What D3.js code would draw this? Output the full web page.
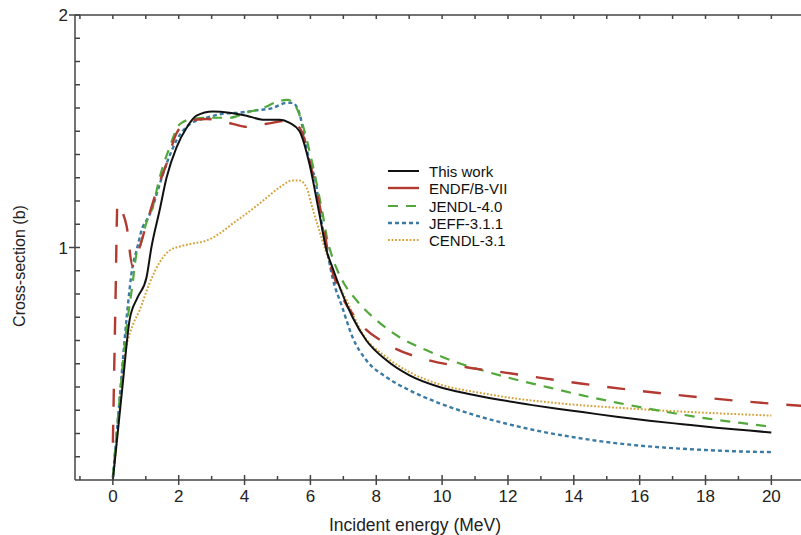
<!DOCTYPE html>
<html><head><meta charset="utf-8">
<script src="https://cdn.jsdelivr.net/npm/d3@7"></script>
<style>body{margin:0;background:#fff}svg{display:block}text{font-family:"Liberation Sans",Arial,sans-serif}</style>
</head><body><svg id="c" width="801" height="535"></svg>
<script>
const seriesNames = ["This work","ENDF/B-VII","JENDL-4.0","JEFF-3.1.1","CENDL-3.1"];
const thisWork = [[0,0],[0.29,0.40],[0.51,0.69],[0.75,0.785],[1.02,0.87],[1.17,1.0],[1.42,1.16],[1.63,1.30],[1.93,1.43],[2.24,1.515],[2.54,1.567],[3.03,1.585],[3.54,1.58],[4.06,1.567],[4.55,1.55],[5.06,1.55],[5.37,1.536],[5.67,1.50],[5.97,1.36],[6.27,1.146],[6.49,0.987],[6.67,0.914],[6.97,0.80],[7.28,0.70],[7.70,0.60],[8.31,0.515],[9.01,0.45],[9.92,0.40],[10.74,0.372],[11.74,0.345],[12.74,0.322],[13.5,0.306],[14.26,0.292],[15.3,0.272],[16.3,0.255],[17.3,0.240],[18.33,0.225],[19.33,0.213],[20.0,0.204]];
const endf = [[0,0.16],[0.08,0.77],[0.14,1.19],[0.23,1.17],[0.42,1.09],[0.6,0.92],[0.81,1.0],[1.05,1.115],[1.33,1.245],[1.63,1.36],[1.93,1.49],[2.33,1.545],[2.85,1.553],[3.64,1.532],[4.06,1.519],[4.67,1.532],[5.27,1.545],[5.67,1.515],[6.06,1.32],[6.37,1.116],[6.58,0.944],[6.88,0.815],[7.43,0.687],[8.4,0.579],[9.53,0.518],[10.74,0.485],[11.96,0.461],[13.05,0.438],[14.26,0.414],[15.48,0.392],[16.66,0.373],[17.82,0.356],[19.03,0.340],[20.24,0.326],[21,0.318]];
const jendl = [[0,0.01],[0.2,0.34],[0.42,0.66],[0.6,0.845],[0.72,0.974],[0.81,1.0],[1.02,1.107],[1.2,1.17],[1.42,1.30],[1.72,1.43],[2.03,1.53],[2.42,1.553],[3.03,1.558],[3.54,1.558],[4.06,1.58],[4.55,1.60],[5.06,1.63],[5.3,1.635],[5.58,1.60],[5.76,1.53],[6.06,1.36],[6.37,1.146],[6.52,1.03],[6.67,0.957],[6.97,0.858],[7.4,0.773],[8.01,0.687],[8.71,0.614],[9.53,0.558],[10.44,0.506],[11.35,0.466],[12.35,0.428],[13.3,0.396],[14.26,0.364],[15.3,0.333],[16.3,0.306],[17.3,0.281],[18.33,0.259],[19.33,0.241],[20.0,0.229]];
const jeff = [[0,0.01],[0.2,0.34],[0.42,0.70],[0.6,0.92],[0.72,0.987],[0.9,1.086],[1.02,1.116],[1.2,1.17],[1.33,1.23],[1.63,1.36],[1.93,1.46],[2.33,1.53],[2.85,1.558],[3.33,1.575],[3.85,1.58],[4.36,1.59],[4.85,1.60],[5.27,1.622],[5.45,1.622],[5.67,1.575],[5.82,1.47],[5.97,1.373],[6.19,1.258],[6.27,1.17],[6.49,1.0],[6.67,0.871],[6.97,0.742],[7.28,0.614],[7.7,0.515],[8.31,0.442],[9.01,0.386],[9.92,0.33],[10.92,0.282],[11.96,0.242],[12.96,0.210],[14.0,0.184],[15.0,0.163],[16.0,0.148],[17.0,0.137],[18.0,0.129],[19.0,0.123],[20.0,0.12]];
const cendl = [[0,0.01],[0.15,0.21],[0.29,0.47],[0.42,0.58],[0.6,0.665],[0.81,0.73],[1.11,0.845],[1.42,0.936],[1.72,0.987],[2.03,1.004],[2.42,1.017],[2.85,1.03],[3.24,1.06],[3.64,1.103],[4.06,1.146],[4.55,1.20],[5.06,1.258],[5.45,1.288],[5.67,1.288],[5.88,1.258],[6.06,1.17],[6.27,1.073],[6.49,0.974],[6.67,0.90],[7.1,0.773],[7.58,0.63],[8.31,0.528],[9.01,0.464],[10.01,0.408],[11.23,0.373],[12.26,0.350],[13.26,0.334],[14.26,0.321],[15.3,0.311],[16.3,0.302],[17.3,0.294],[18.33,0.287],[19.33,0.281],[20.0,0.277]];
const xMajorTicks = [0,2,4,6,8,10,12,14,16,18,20];
const xMinorTicks = [-1,1,3,5,7,9,11,13,15,17,19];
const yMajorTicks = [1,2];
const yMinorTicks = [0.1,0.2,0.3,0.4,0.5,0.6,0.7,0.8,0.9,1.1,1.2,1.3,1.4,1.5,1.6,1.7,1.8,1.9];

const styles = [
  {color:"#111", width:2, dash:null},
  {color:"#b23a30", width:2.4, dash:"18,18"},
  {color:"#52a83a", width:2.2, dash:"10,8"},
  {color:"#3b7aa3", width:2.4, dash:"4,3"},
  {color:"#d6a23c", width:2, dash:"1.8,1.8"}
];
const data = [thisWork, endf, jendl, jeff, cendl];

const svg = d3.select("#c");
const L=75, R=801, T=15, B=480;
const x = d3.scaleLinear().domain([-1.15,20.9]).range([L,R]);
const y = d3.scaleLinear().domain([0,2]).range([B,T]);
const axisColor="#444";

svg.append("clipPath").attr("id","clip").append("rect").attr("x",L).attr("y",T).attr("width",R-L).attr("height",B-T);

const line = d3.line().x(d=>x(d[0])).y(d=>y(d[1])).curve(d3.curveMonotoneX);
const g = svg.append("g").attr("clip-path","url(#clip)");
[4,3,2,1,0].forEach(i=>{
  g.append("path").attr("d",line(data[i])).attr("fill","none")
   .attr("stroke",styles[i].color).attr("stroke-width",styles[i].width)
   .attr("stroke-dasharray",styles[i].dash).attr("stroke-linejoin","round");
});

const ax = svg.append("g").attr("stroke",axisColor).attr("stroke-width",1.5);
ax.append("line").attr("x1",L).attr("x2",R).attr("y1",B).attr("y2",B);
ax.append("line").attr("x1",L).attr("x2",R).attr("y1",T).attr("y2",T);
ax.append("line").attr("x1",L).attr("x2",L).attr("y1",T).attr("y2",B);
xMajorTicks.forEach(v=>{
  ax.append("line").attr("x1",x(v)).attr("x2",x(v)).attr("y1",B-5).attr("y2",B+5);
  ax.append("line").attr("x1",x(v)).attr("x2",x(v)).attr("y1",T).attr("y2",T+4);
});
xMinorTicks.forEach(v=>{
  ax.append("line").attr("x1",x(v)).attr("x2",x(v)).attr("y1",B-4).attr("y2",B);
  ax.append("line").attr("x1",x(v)).attr("x2",x(v)).attr("y1",T).attr("y2",T+4);
});
yMinorTicks.forEach(v=>{
  ax.append("line").attr("x1",L).attr("x2",L+5).attr("y1",y(v)).attr("y2",y(v));
});
yMajorTicks.forEach(v=>{
  ax.append("line").attr("x1",L-6).attr("x2",L+5).attr("y1",y(v)).attr("y2",y(v));
});

const tl = svg.append("g").attr("fill","#222").attr("font-size",17);
xMajorTicks.forEach(v=>{
  tl.append("text").attr("x",x(v)).attr("y",B+22).attr("text-anchor","middle").text(v);
});
yMajorTicks.forEach(v=>{
  tl.append("text").attr("x",L-7).attr("y",y(v)+6).attr("text-anchor","end").text(v);
});
svg.append("text").attr("x",415).attr("y",531).attr("text-anchor","middle").attr("font-size",17.5).attr("fill","#222").text("Incident energy (MeV)");
svg.append("text").attr("transform","translate(25,266) rotate(-90)").attr("text-anchor","middle").attr("font-size",16).attr("fill","#222").text("Cross-section (b)");

const lg = svg.append("g");
const legY = [171,188,206,223,240];
seriesNames.forEach((n,i)=>{
  lg.append("line").attr("x1",388).attr("x2",419).attr("y1",legY[i]).attr("y2",legY[i])
    .attr("stroke",styles[i].color).attr("stroke-width",styles[i].width)
    .attr("stroke-dasharray", i===1?null:styles[i].dash);
  lg.append("text").attr("x",429).attr("y",legY[i]+5.5).attr("font-size",15).attr("fill","#111").text(n);
});
</script></body></html>
